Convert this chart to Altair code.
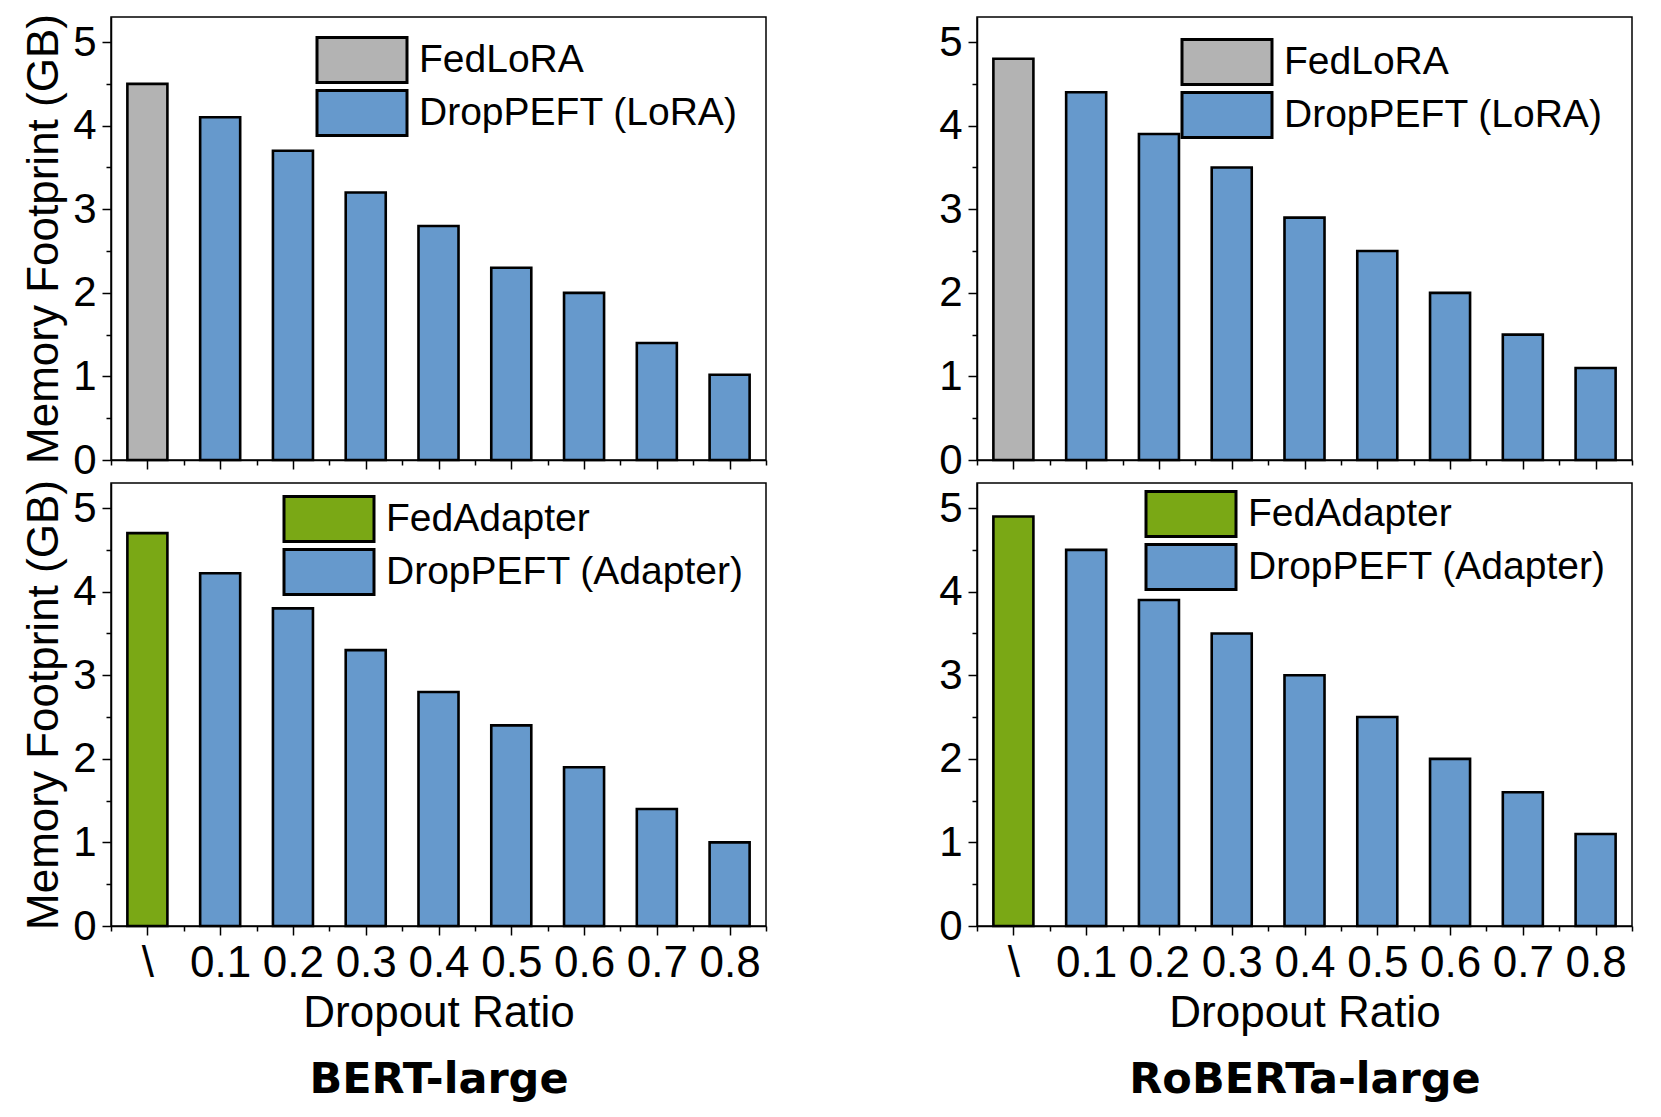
import json
import altair as alt
import pandas as pd

# ---------------- data ----------------
ratios = ["\\", "0.1", "0.2", "0.3", "0.4", "0.5", "0.6", "0.7", "0.8"]
positions = [1, 2, 3, 4, 5, 6, 7, 8, 9]

bert_lora = [4.5, 4.1, 3.7, 3.2, 2.8, 2.3, 2.0, 1.4, 1.02]
roberta_lora = [4.8, 4.4, 3.9, 3.5, 2.9, 2.5, 2.0, 1.5, 1.1]
bert_adapter = [4.7, 4.22, 3.8, 3.3, 2.8, 2.4, 1.9, 1.4, 1.0]
roberta_adapter = [4.9, 4.5, 3.9, 3.5, 3.0, 2.5, 2.0, 1.6, 1.1]

y_major = [0, 1, 2, 3, 4, 5]
y_minor = [0.5, 1.5, 2.5, 3.5, 4.5]
x_minor = [0.5, 1.5, 2.5, 3.5, 4.5, 5.5, 6.5, 7.5, 8.5, 9.5]

GRAY = "#b3b3b3"
BLUE = "#6699cc"
GREEN = "#7aa815"
FONT = "Liberation Sans"
BOLD_FONT = "DejaVu Sans"

W, H = 655, 443
label_expr = "[" + ",".join(json.dumps(r) for r in ratios) + "][datum.value - 1]"


def panel(values, base_name, base_color, peft_name, model, bottom, left, lx, ly):
    df = pd.DataFrame({
        "pos": positions,
        "ratio": ratios,
        "mem": values,
        "method": [base_name] + [peft_name] * (len(values) - 1),
    })
    base = alt.Chart(df).transform_calculate(
        x0="datum.pos - 0.275", x1="datum.pos + 0.275"
    )
    xscale = alt.Scale(domain=[0.5, 9.5], nice=False, zero=False)
    yscale = alt.Scale(domain=[0, 5.3], nice=False)

    bars = base.mark_bar(stroke="black", strokeWidth=2.6, opacity=1).encode(
        x=alt.X("x0:Q", scale=xscale,
                axis=alt.Axis(values=positions, labelExpr=label_expr,
                              labels=bottom, title="Dropout Ratio" if bottom else None,
                              orient="bottom", tickSize=9, grid=False,
                              labelFontSize=44, labelPadding=6,
                              titleFontSize=44, titleFontWeight="normal",
                              titlePadding=6, labelFlush=False)),
        x2="x1:Q",
        y=alt.Y("mem:Q", scale=yscale,
                axis=alt.Axis(values=y_major, format="d", orient="left",
                              tickSize=9, grid=False, labelFontSize=42,
                              labelPadding=6,
                              title="Memory Footprint (GB)" if left else None,
                              titleFontSize=44, titleFontWeight="normal",
                              titlePadding=6)),
        y2=alt.datum(0),
        color=alt.Color("method:N",
                        scale=alt.Scale(domain=[base_name, peft_name],
                                        range=[base_color, BLUE]),
                        legend=alt.Legend(title=None, orient="none",
                                          legendX=lx, legendY=ly,
                                          symbolType="M-2,-1H2V1H-2Z",
                                          symbolSize=2025,
                                          symbolOffset=21,
                                          symbolStrokeColor="black",
                                          symbolStrokeWidth=3,
                                          symbolOpacity=1,
                                          labelFontSize=39, labelFont=FONT,
                                          labelColor="black", labelLimit=600,
                                          labelOffset=33, rowPadding=-10,
                                          padding=0)),
    )
    minor_x_axis = alt.Axis(values=x_minor, labels=False, orient="bottom",
                            tickSize=5, domain=False, grid=False,
                            title=model if bottom else None,
                            titleFont=BOLD_FONT,
                            titleFontSize=43, titleFontWeight="bold",
                            titlePadding=127)
    minor = base.mark_bar(opacity=0).encode(
        x=alt.X("x0:Q", scale=xscale, axis=minor_x_axis),
        x2="x1:Q",
        y=alt.Y("mem:Q", scale=yscale,
                axis=alt.Axis(values=y_minor, labels=False, title=None,
                              orient="left", tickSize=5, domain=False,
                              grid=False)),
        y2=alt.datum(0),
    )
    return alt.layer(bars, minor).resolve_axis(
        x="independent", y="independent"
    ).properties(width=W, height=H)


tl = panel(bert_lora, "FedLoRA", GRAY, "DropPEFT (LoRA)", "BERT-large",
           False, True, 206, 19)
bl = panel(bert_adapter, "FedAdapter", GREEN, "DropPEFT (Adapter)", "BERT-large",
           True, True, 173, 12)
tr = panel(roberta_lora, "FedLoRA", GRAY, "DropPEFT (LoRA)", "RoBERTa-large",
           False, False, 205, 21)
br = panel(roberta_adapter, "FedAdapter", GREEN, "DropPEFT (Adapter)", "RoBERTa-large",
           True, False, 169, 7)


def column(top, bottom):
    return alt.vconcat(top, bottom, spacing=23, bounds="flush").resolve_scale(
        color="independent").resolve_legend(color="independent")


chart = alt.hconcat(
    column(tl, bl),
    column(tr, br),
    spacing=169,
).resolve_scale(color="independent").resolve_legend(color="independent").configure(
    font=FONT,
    padding={"left": 13, "top": 4, "right": 5, "bottom": 5},
).configure_view(
    stroke="black", strokeWidth=1.5
).configure_axis(
    labelFont=FONT, titleFont=FONT, labelColor="black", titleColor="black",
    domainColor="black", tickColor="black", domainWidth=1.5, tickWidth=1.5,
)

chart.save("out.html", embed_options={"renderer": "svg", "actions": False})
